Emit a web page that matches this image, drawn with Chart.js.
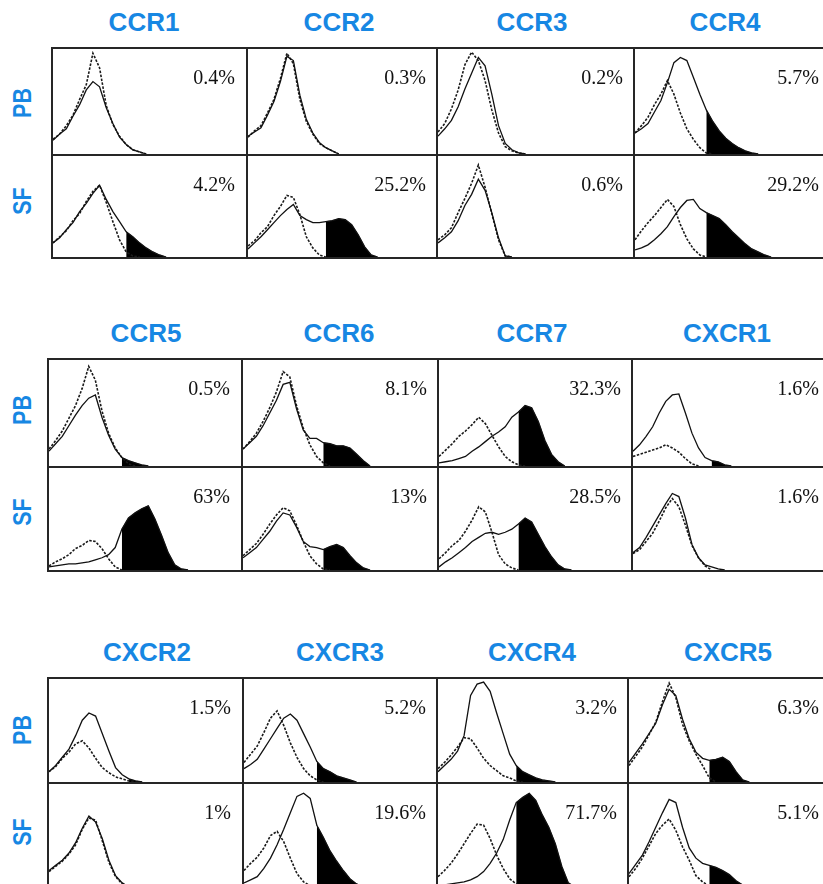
<!DOCTYPE html>
<html><head><meta charset="utf-8">
<script src="https://cdn.jsdelivr.net/npm/chart.js@4.4.1/dist/chart.umd.min.js"></script>
<style>
html,body{margin:0;padding:0;background:#fff}
body{position:relative;width:823px;height:884px;overflow:hidden;font-family:"Liberation Sans",Arial,sans-serif}
.ttl{position:absolute;color:#1787e3;font-weight:bold;font-size:26px;line-height:1;transform:translate(-50%,-50%);white-space:nowrap}
.row{position:absolute;color:#1787e3;font-weight:bold;font-size:25px;line-height:1;transform:translate(-50%,-50%) rotate(-90deg) scaleX(0.86);white-space:nowrap}
.pct{position:absolute;font-family:"Liberation Serif","Times New Roman",serif;font-size:20px;line-height:1;color:#111;white-space:nowrap;transform:translateY(-50%)}
.ln{position:absolute;background:#262626;z-index:3}
canvas{position:absolute;z-index:1}
</style>
</head><body>
<script>
// ---------- categories ----------
const markers = ["CCR1","CCR2","CCR3","CCR4","CCR5","CCR6","CCR7","CXCR1","CXCR2","CXCR3","CXCR4","CXCR5"];
const rowNames = ["PB","SF"];
const binLabels = [0,1,2,3,4,5,6,7,8,9,10,11,12,13,14,15,16,17,18,19,20,21,22,23,24,25,26,27,28,29];

// ---------- percentages ----------
const pctPB = ["0.4%","0.3%","0.2%","5.7%","0.5%","8.1%","32.3%","1.6%","1.5%","5.2%","3.2%","6.3%"];
const pctSF = ["4.2%","25.2%","0.6%","29.2%","63%","13%","28.5%","1.6%","1%","19.6%","71.7%","5.1%"];

// ---------- histograms (iso = dotted control, test = solid, gate = first positive bin) ----------
const CCR1_PB_iso  = [14,19,27,37,52,66,96,82,46,28,17,9,4,2,0];
const CCR1_PB_test = [13,19,24,36,47,61,69,64,44,29,16,9,4,2,0];
const CCR1_PB_gate = null;
const CCR1_SF_iso  = [14,20,26,36,43,55,65,71,54,35,17,5,1,0];
const CCR1_SF_test = [14,19,27,34,45,53,63,71,57,45,35,25,20,14,9,5,2,0];
const CCR1_SF_gate = 11;

const CCR2_PB_iso  = [16,22,27,39,52,72,96,86,52,31,19,10,6,3,0];
const CCR2_PB_test = [17,21,25,37,50,69,93,89,56,33,20,11,6,3,0];
const CCR2_PB_gate = null;
const CCR2_SF_iso  = [11,16,24,30,41,50,61,59,42,20,9,2,0];
const CCR2_SF_test = [8,14,20,27,34,41,47,52,41,37,34,34,35,36,38,37,32,22,10,2,0];
const CCR2_SF_gate = 12;

const CCR3_PB_iso  = [21,29,43,61,85,97,89,70,42,20,7,3,1,0];
const CCR3_PB_test = [17,24,32,45,62,77,92,84,57,27,10,4,1,0];
const CCR3_PB_gate = null;
const CCR3_SF_iso  = [17,22,29,44,58,73,91,69,43,17,1,0];
const CCR3_SF_test = [14,19,25,36,51,62,77,66,44,19,1,0];
const CCR3_SF_gate = null;

const CCR4_PB_iso  = [20,27,35,47,57,70,57,39,24,14,6,1,0];
const CCR4_PB_test = [20,24,29,40,51,68,87,92,89,73,57,42,31,22,15,10,6,3,1,0];
const CCR4_PB_gate = 11;
const CCR4_SF_iso  = [17,26,34,41,49,57,50,32,18,8,2,0];
const CCR4_SF_test = [7,9,12,17,23,30,40,49,56,57,48,44,41,38,32,25,19,13,8,5,2,0];
const CCR4_SF_gate = 11;

const CCR5_PB_iso  = [16,24,33,45,57,73,94,81,52,31,17,8,2,0];
const CCR5_PB_test = [14,21,28,38,48,57,64,67,46,29,16,8,5,3,1,0];
const CCR5_PB_gate = 11;
const CCR5_SF_iso  = [4,8,11,15,21,24,29,28,21,11,3,0];
const CCR5_SF_test = [3,4,5,6,6,7,8,10,12,15,22,40,51,56,60,63,50,34,17,5,1,0];
const CCR5_SF_gate = 11;

const CCR6_PB_iso  = [16,23,31,42,55,70,89,84,57,36,20,9,3,0];
const CCR6_PB_test = [16,22,28,38,50,62,77,79,54,34,26,26,22,21,19,19,17,11,5,0];
const CCR6_PB_gate = 12;
const CCR6_SF_iso  = [14,20,26,35,45,54,61,58,44,28,14,6,1,0];
const CCR6_SF_test = [12,17,22,30,38,48,56,54,42,28,23,22,20,23,25,22,14,7,2,0];
const CCR6_SF_gate = 12;

const CCR7_PB_iso  = [9,15,21,28,33,39,46,40,29,18,9,4,1,0];
const CCR7_PB_test = [3,4,5,7,9,14,18,23,28,32,37,46,51,57,55,42,24,11,4,0];
const CCR7_PB_gate = 12;
const CCR7_SF_iso  = [11,17,24,29,38,49,62,57,37,15,6,2,0];
const CCR7_SF_test = [3,8,12,17,22,28,32,36,37,35,37,40,45,51,47,35,23,13,5,1,0];
const CCR7_SF_gate = 12;

const CXCR1_PB_iso  = [9,11,13,15,17,20,17,13,7,2,0];
const CXCR1_PB_test = [14,20,28,37,50,61,67,68,50,31,17,8,5,4,1,0];
const CXCR1_PB_gate = 12;
const CXCR1_SF_iso  = [16,20,28,36,48,61,70,62,44,24,12,4,0];
const CXCR1_SF_test = [17,22,32,43,54,65,75,72,51,25,12,5,3,1,0];
const CXCR1_SF_gate = null;

const CXCR2_PB_iso  = [10,15,23,29,37,40,33,23,14,9,5,3,1,0];
const CXCR2_PB_test = [10,16,24,32,45,60,67,64,47,30,14,7,3,1,0];
const CXCR2_PB_gate = 12;
const CXCR2_SF_iso  = [15,20,25,32,41,56,67,65,45,24,10,3,0];
const CXCR2_SF_test = [16,21,26,33,43,57,69,63,47,26,11,4,0];
const CXCR2_SF_gate = null;

const CXCR3_PB_iso  = [19,27,35,48,62,69,55,38,24,13,6,2,0];
const CXCR3_PB_test = [13,17,22,32,42,52,62,66,60,47,34,20,13,10,6,4,2,0];
const CXCR3_PB_gate = 11;
const CXCR3_SF_iso  = [16,23,29,38,50,54,44,28,13,5,1,0];
const CXCR3_SF_test = [4,7,10,18,28,41,56,72,88,91,86,60,48,35,25,16,8,3,0];
const CXCR3_SF_gate = 11;

const CXCR4_PB_iso  = [13,19,26,34,43,42,33,23,16,11,6,4,1,0];
const CXCR4_PB_test = [10,16,22,30,45,84,95,97,88,67,47,27,16,10,7,4,2,1,0];
const CXCR4_PB_gate = 12;
const CXCR4_SF_iso  = [10,16,23,32,42,52,61,60,47,31,18,8,3,0];
const CXCR4_SF_test = [1,2,3,4,5,7,10,15,23,33,46,65,82,87,91,84,70,58,42,20,4,0];
const CXCR4_SF_gate = 12;

const CXCR5_PB_iso  = [16,25,34,46,58,78,96,82,56,40,27,16,4,0];
const CXCR5_PB_test = [19,28,37,47,57,75,90,84,61,42,29,23,21,22,24,20,10,2,0];
const CXCR5_PB_gate = 12;
const CXCR5_SF_iso  = [10,18,28,40,52,60,66,55,39,26,11,5,1,0];
const CXCR5_SF_test = [13,22,31,44,58,72,85,82,58,38,28,23,21,19,16,12,6,2,0];
const CXCR5_SF_gate = 12;

// table built from the named arrays
const panels = {
  CCR1:[[CCR1_PB_iso,CCR1_PB_test,CCR1_PB_gate],[CCR1_SF_iso,CCR1_SF_test,CCR1_SF_gate]],
  CCR2:[[CCR2_PB_iso,CCR2_PB_test,CCR2_PB_gate],[CCR2_SF_iso,CCR2_SF_test,CCR2_SF_gate]],
  CCR3:[[CCR3_PB_iso,CCR3_PB_test,CCR3_PB_gate],[CCR3_SF_iso,CCR3_SF_test,CCR3_SF_gate]],
  CCR4:[[CCR4_PB_iso,CCR4_PB_test,CCR4_PB_gate],[CCR4_SF_iso,CCR4_SF_test,CCR4_SF_gate]],
  CCR5:[[CCR5_PB_iso,CCR5_PB_test,CCR5_PB_gate],[CCR5_SF_iso,CCR5_SF_test,CCR5_SF_gate]],
  CCR6:[[CCR6_PB_iso,CCR6_PB_test,CCR6_PB_gate],[CCR6_SF_iso,CCR6_SF_test,CCR6_SF_gate]],
  CCR7:[[CCR7_PB_iso,CCR7_PB_test,CCR7_PB_gate],[CCR7_SF_iso,CCR7_SF_test,CCR7_SF_gate]],
  CXCR1:[[CXCR1_PB_iso,CXCR1_PB_test,CXCR1_PB_gate],[CXCR1_SF_iso,CXCR1_SF_test,CXCR1_SF_gate]],
  CXCR2:[[CXCR2_PB_iso,CXCR2_PB_test,CXCR2_PB_gate],[CXCR2_SF_iso,CXCR2_SF_test,CXCR2_SF_gate]],
  CXCR3:[[CXCR3_PB_iso,CXCR3_PB_test,CXCR3_PB_gate],[CXCR3_SF_iso,CXCR3_SF_test,CXCR3_SF_gate]],
  CXCR4:[[CXCR4_PB_iso,CXCR4_PB_test,CXCR4_PB_gate],[CXCR4_SF_iso,CXCR4_SF_test,CXCR4_SF_gate]],
  CXCR5:[[CXCR5_PB_iso,CXCR5_PB_test,CXCR5_PB_gate],[CXCR5_SF_iso,CXCR5_SF_test,CXCR5_SF_gate]]
};

// ---------- layout (positions only) ----------
const blocks = [
  {top:48,  mid:155, bot:258, xs:[52,247,437,634,824], titleY:22,  titleX:[144,339,532,725], rowY:[103,201]},
  {top:359, mid:467, bot:571, xs:[48,242,438,632,824], titleY:333, titleX:[146,339,532,727], rowY:[410,512]},
  {top:678, mid:783, bot:888, xs:[48,243,437,628,824], titleY:652, titleX:[147,340,532,728], rowY:[730,832]}
];
const pctRightOff = [12,11,11,5];

function addDiv(cls, text, css){
  const d = document.createElement('div');
  d.className = cls; if (text) d.textContent = text;
  Object.assign(d.style, css); document.body.appendChild(d); return d;
}

blocks.forEach((b, bi) => {
  [b.top, b.mid, b.bot].forEach(y => addDiv('ln', '', {left:(b.xs[0]-1)+'px', top:(y-1)+'px', width:(825-b.xs[0])+'px', height:'2px'}));
  b.xs.slice(0,4).forEach(x => addDiv('ln', '', {left:(x-1)+'px', top:(b.top-1)+'px', width:'2px', height:(b.bot-b.top+2)+'px'}));
  rowNames.forEach((r, ri) => addDiv('row', r, {left:'22px', top:b.rowY[ri]+'px'}));
  for (let c = 0; c < 4; c++) {
    const mi = bi*4 + c, name = markers[mi];
    addDiv('ttl', name, {left:b.titleX[c]+'px', top:b.titleY+'px'});
    for (let r = 0; r < 2; r++) {
      const xL = b.xs[c], xR = b.xs[c+1];
      const yT = r === 0 ? b.top : b.mid, yB = r === 0 ? b.mid : b.bot;
      const cv = document.createElement('canvas');
      const w = xR - xL - 2, h = yB - yT - 2;
      cv.width = w; cv.height = h;
      Object.assign(cv.style, {left:(xL+1)+'px', top:(yT+1)+'px', width:w+'px', height:h+'px'});
      document.body.appendChild(cv);
      const [iso, test, gate] = panels[name][r];
      const fillData = test.map((v, i) => (gate !== null && i >= gate) ? v : null);
      new Chart(cv.getContext('2d'), {
        type: 'line',
        data: {
          labels: binLabels,
          datasets: [
            {data: test, borderColor:'#111', borderWidth:1.3, pointRadius:0, fill:false, tension:0},
            {data: iso, borderColor:'#1a1a1a', borderWidth:1.6, borderDash:[2.5,1.5], pointRadius:0, fill:false, tension:0},
            {data: fillData, borderColor:'#000', borderWidth:0.5, backgroundColor:'#000', pointRadius:0, fill:'origin', tension:0, spanGaps:false}
          ]
        },
        options: {
          responsive:false, animation:false, devicePixelRatio:1,
          layout:{padding:0},
          plugins:{legend:{display:false}, tooltip:{enabled:false}},
          scales:{
            x:{display:false, offset:false},
            y:{display:false, min:0, max:100}
          }
        }
      });
      const pct = r === 0 ? pctPB[mi] : pctSF[mi];
      addDiv('pct', pct, {right:(823 - (xR - pctRightOff[c]))+'px', top:(yT+29)+'px', zIndex:2});
    }
  }
});
</script>
</body></html>
